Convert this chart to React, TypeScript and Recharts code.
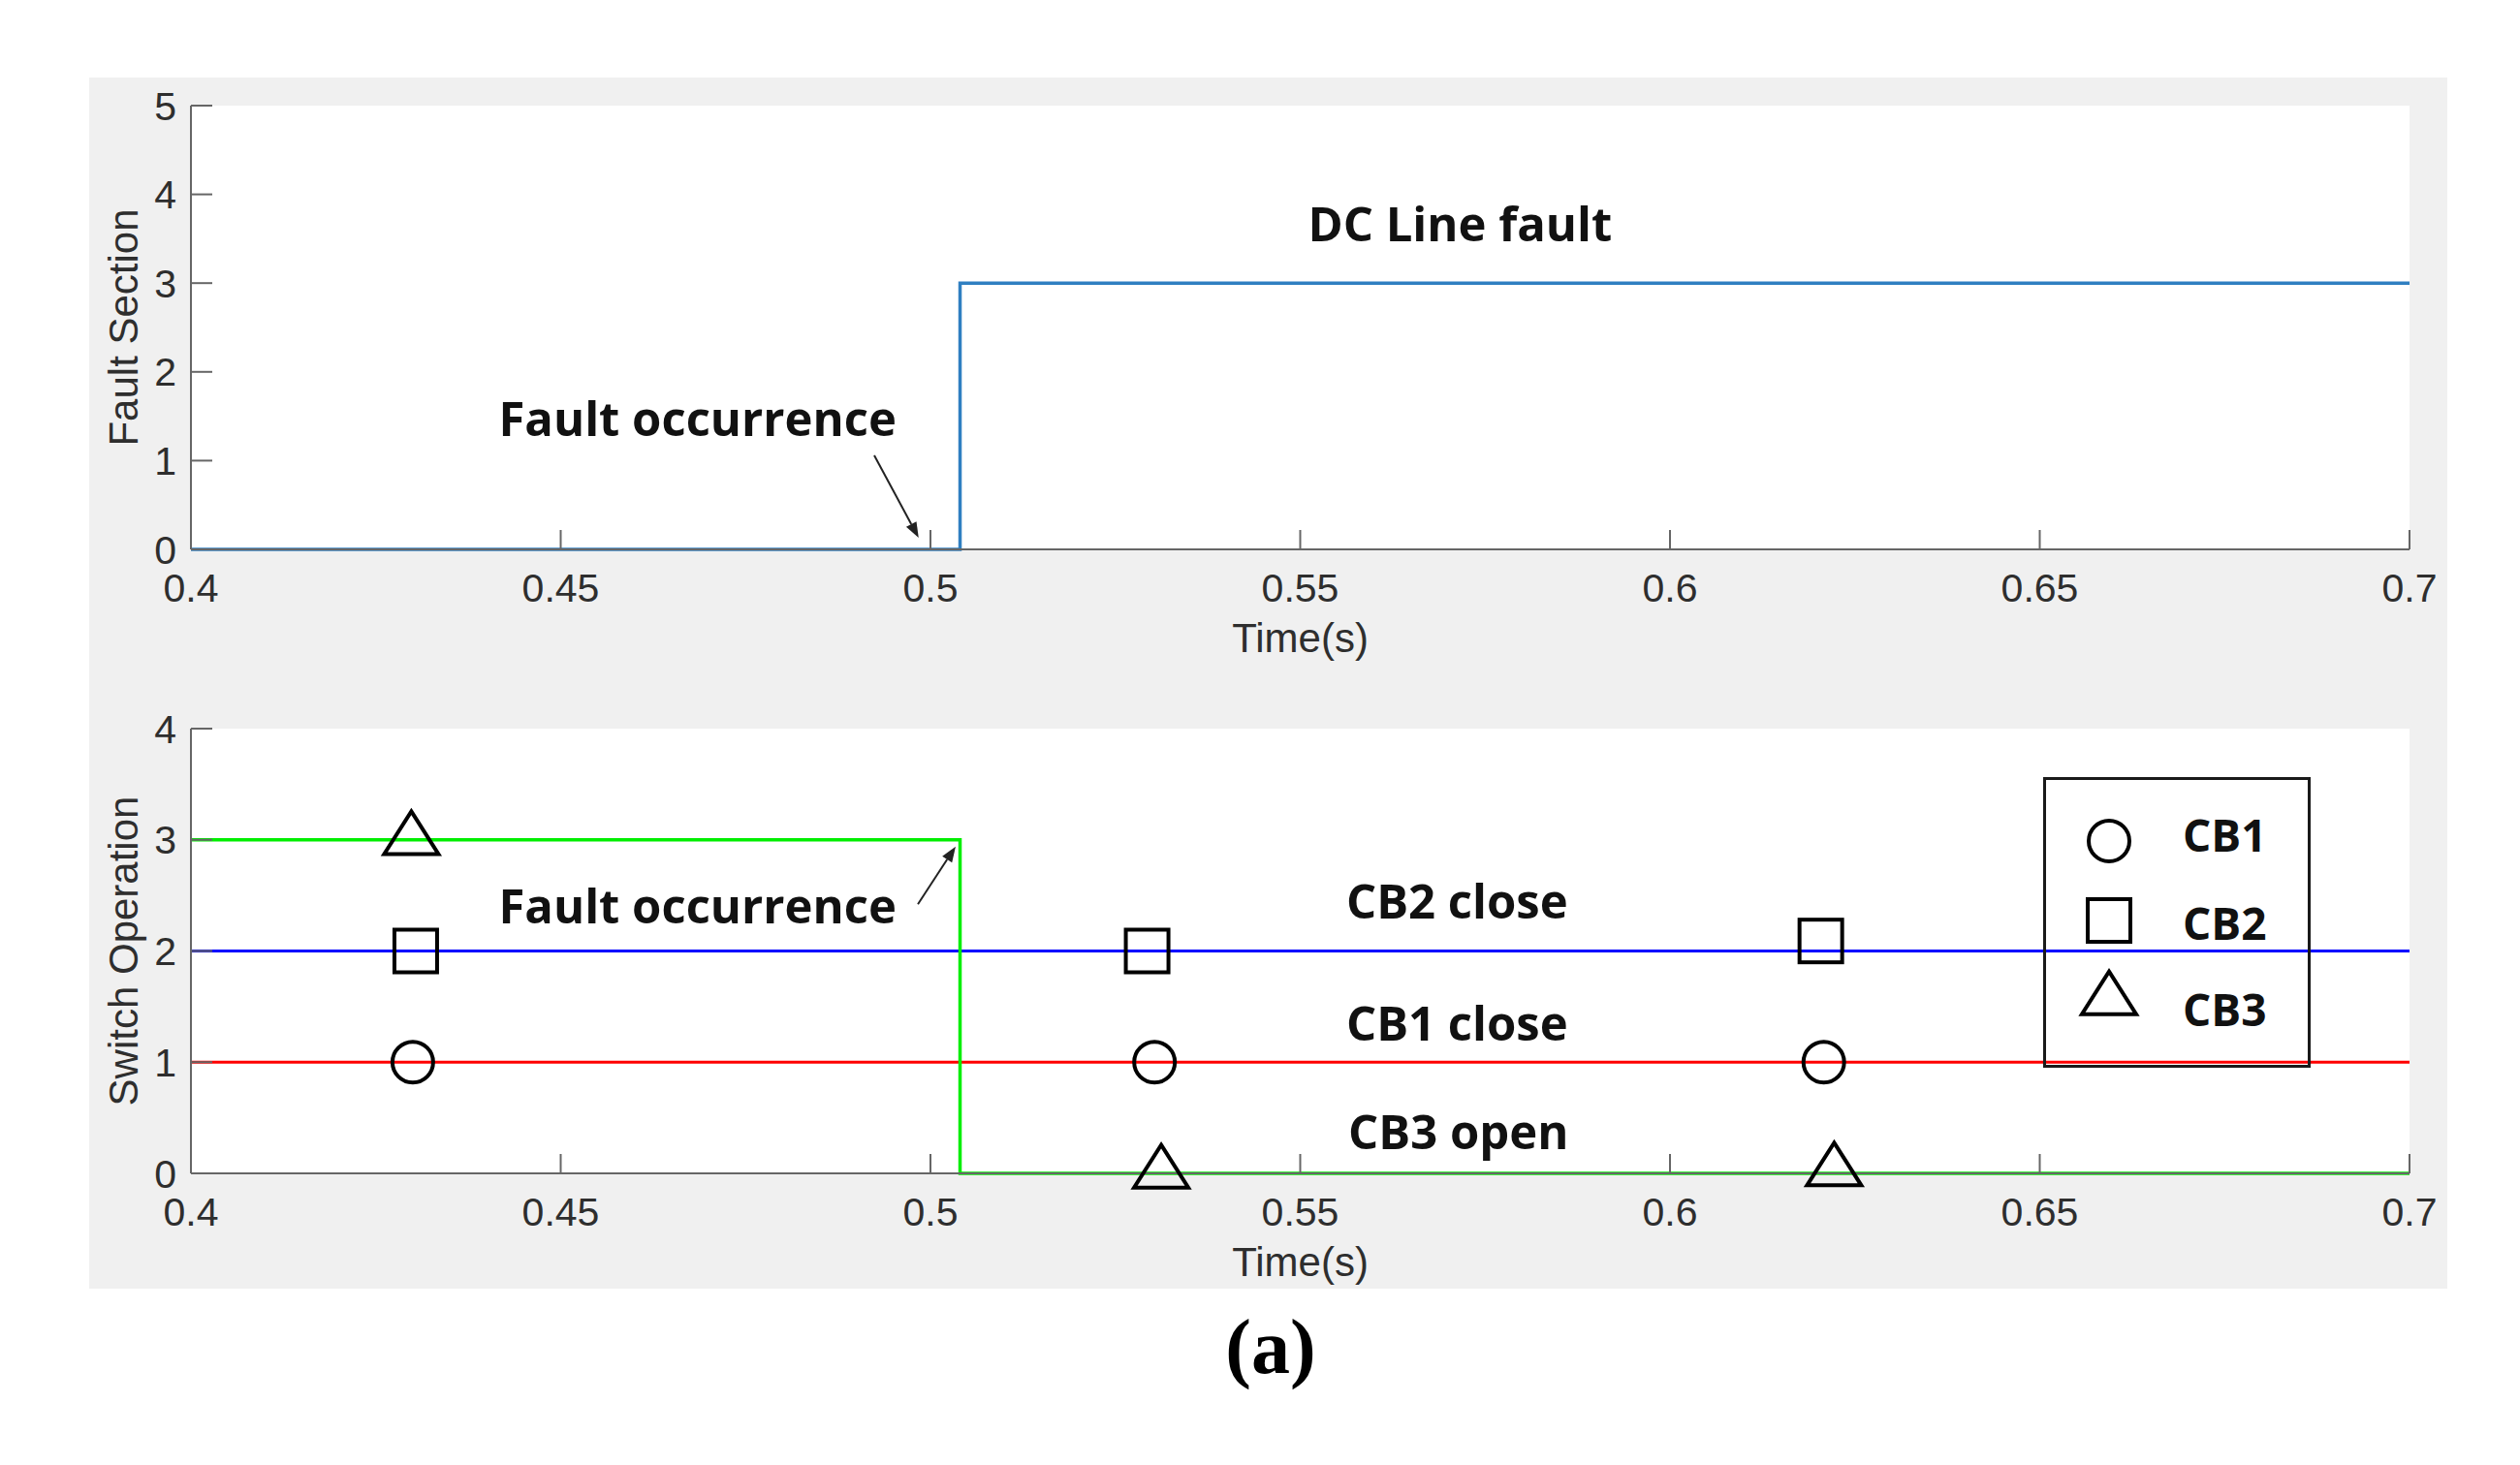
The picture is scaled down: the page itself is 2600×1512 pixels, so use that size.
import {
  ComposedChart,
  Line,
  Scatter,
  XAxis,
  YAxis,
  CartesianGrid,
  ReferenceDot,
  ReferenceLine,
  Legend,
} from "recharts";

// axis ticks
const TIME_TICKS = [0.4, 0.45, 0.5, 0.55, 0.6, 0.65, 0.7];
const FAULT_TICKS = [0, 1, 2, 3, 4, 5];
const SWITCH_TICKS = [0, 1, 2, 3, 4];

// upper panel: fault section signal
const faultSection = [
  { t: 0.4, v: 0 },
  { t: 0.504, v: 3 },
  { t: 0.7, v: 3 },
];

// lower panel: switch operation signals
const cb1Line = [
  { t: 0.4, v: 1 },
  { t: 0.7, v: 1 },
];
const cb2Line = [
  { t: 0.4, v: 2 },
  { t: 0.7, v: 2 },
];
const cb3Line = [
  { t: 0.4, v: 3 },
  { t: 0.504, v: 0 },
  { t: 0.7, v: 0 },
];

// markers
const cb1Marks = [
  { t: 0.43, v: 1 },
  { t: 0.5303, v: 1 },
  { t: 0.6208, v: 1 },
];
const cb2Marks = [
  { t: 0.4304, v: 2 },
  { t: 0.5293, v: 2 },
  { t: 0.6204, v: 2.09 },
];
const cb3Marks = [
  { t: 0.4298, v: 3 },
  { t: 0.5312, v: 0 },
  { t: 0.6222, v: 0.02 },
];

// annotations
const topNotes = [
  { t: 0.5716, v: 3.68, text: "DC Line fault" },
  { t: 0.4685, v: 1.485, text: "Fault occurrence" },
];
const bottomNotes = [
  { t: 0.4685, v: 2.41, text: "Fault occurrence" },
  { t: 0.5712, v: 2.46, text: "CB2 close" },
  { t: 0.5712, v: 1.36, text: "CB1 close" },
  { t: 0.5714, v: 0.38, text: "CB3 open" },
];
const topArrow = [
  { x: 0.4924, y: 1.06 },
  { x: 0.4984, y: 0.13 },
];
const bottomArrow = [
  { x: 0.4983, y: 2.42 },
  { x: 0.5034, y: 2.94 },
];

const legendNames = ["CB1", "CB2", "CB3"];

const AXIS = "#666";
const TICK_FONT = "'Liberation Sans', Arial, sans-serif";
const NOTE_FONT = "'Open Sans', 'Noto Sans', sans-serif";

const CHART_W = 2433;
const Y_W = 105;
const X_H = 124;

function CircleMark(p: any) {
  return <circle cx={p.cx} cy={p.cy} r={21} fill="none" stroke="#000" strokeWidth={4} />;
}

function SquareMark(p: any) {
  return (
    <rect x={p.cx - 22} y={p.cy - 22} width={44} height={44} fill="none" stroke="#000" strokeWidth={4} />
  );
}

function TriangleMark(p: any) {
  const w = 28;
  const h = 44;
  const d = `M${p.cx},${p.cy - (2 * h) / 3} L${p.cx + w},${p.cy + h / 3} L${p.cx - w},${p.cy + h / 3} Z`;
  return <path d={d} fill="none" stroke="#000" strokeWidth={4} />;
}

function Arrow(p: any) {
  const { x1, y1, x2, y2 } = p;
  const ang = Math.atan2(y2 - y1, x2 - x1);
  const len = 16;
  const half = 6;
  const bx = x2 - len * Math.cos(ang);
  const by = y2 - len * Math.sin(ang);
  const px = -Math.sin(ang) * half;
  const py = Math.cos(ang) * half;
  return (
    <g>
      <line x1={x1} y1={y1} x2={bx} y2={by} stroke="#222" strokeWidth={2} />
      <polygon points={`${x2},${y2} ${bx + px},${by + py} ${bx - px},${by - py}`} fill="#222" />
    </g>
  );
}

function noteShape(text: string) {
  return (p: any) => (
    <text
      x={p.cx}
      y={p.cy}
      textAnchor="middle"
      dominantBaseline="central"
      fontFamily={NOTE_FONT}
      fontWeight="bold"
      fontSize={49}
      fill="#111"
    >
      {text}
    </text>
  );
}

function xTitle(p: any) {
  const vb = p.viewBox || {};
  return (
    <text
      x={vb.x + vb.width / 2}
      y={vb.y + 106}
      textAnchor="middle"
      fontFamily={TICK_FONT}
      fontSize={42}
      fill="#2e2e2e"
    >
      Time(s)
    </text>
  );
}

function yTitle(label: string) {
  return (p: any) => {
    const vb = p.viewBox || {};
    const x = vb.x + 50;
    const y = vb.y + vb.height / 2;
    return (
      <text
        x={x}
        y={y}
        transform={`rotate(-90 ${x} ${y})`}
        textAnchor="middle"
        fontFamily={TICK_FONT}
        fontSize={42}
        fill="#2e2e2e"
      >
        {label}
      </text>
    );
  };
}

const tickStyle = { fill: "#2e2e2e", fontSize: 41, fontFamily: TICK_FONT };
const lineStyle = { stroke: AXIS, strokeWidth: 2 };

function LegendBox() {
  const marks = [CircleMark, SquareMark, TriangleMark];
  const ys = [66, 148, 230];
  const base = [77, 168, 257];
  return (
    <svg width={276} height={300} style={{ display: "block", overflow: "visible" }}>
      <rect x={1.5} y={1.5} width={273} height={297} fill="none" stroke="#1a1a1a" strokeWidth={3} />
      {legendNames.map((name, i) => {
        const M = marks[i];
        return (
          <g key={name}>
            <M cx={68} cy={ys[i]} />
            <text x={144} y={base[i]} fontFamily={NOTE_FONT} fontWeight="bold" fontSize={46} fill="#111">
              {name}
            </text>
          </g>
        );
      })}
    </svg>
  );
}

function xAxes() {
  return [
    <XAxis
      key="xb"
      dataKey="t"
      type="number"
      domain={[0.4, 0.7]}
      ticks={TIME_TICKS}
      interval={0}
      height={X_H}
      axisLine={lineStyle}
      tickLine={lineStyle}
      tickSize={-20}
      tickMargin={45}
      tick={tickStyle}
      tickFormatter={(v: number) => String(v)}
      label={xTitle}
    />,
    <XAxis
      key="xt"
      xAxisId="top"
      orientation="top"
      type="number"
      domain={[0.4, 0.7]}
      ticks={TIME_TICKS}
      interval={0}
      height={0}
      axisLine={lineStyle}
      tickLine={lineStyle}
      tickSize={-20}
      tickFormatter={() => ""}
    />,
  ];
}

function yAxes(ticks: number[], max: number, title: string) {
  return [
    <YAxis
      key="yl"
      dataKey="v"
      type="number"
      domain={[0, max]}
      ticks={ticks}
      interval={0}
      width={Y_W}
      axisLine={lineStyle}
      tickLine={lineStyle}
      tickSize={-22}
      tickMargin={37}
      tick={tickStyle}
      label={yTitle(title)}
    />,
    <YAxis
      key="yr"
      yAxisId="right"
      orientation="right"
      type="number"
      domain={[0, max]}
      ticks={ticks}
      interval={0}
      width={0}
      axisLine={lineStyle}
      tickLine={lineStyle}
      tickSize={-22}
      tickFormatter={() => ""}
    />,
  ];
}

export default function App() {
  return (
    <div style={{ position: "absolute", left: 0, top: 0, width: 2600, height: 1512, background: "#fff" }}>
      <div style={{ position: "absolute", left: 92, top: 80, width: 2433, height: 1250, background: "#f0f0f0" }}>
        <div style={{ position: "absolute", left: 0, top: 0 }}>
          <ComposedChart width={CHART_W} height={29 + 458 + X_H} margin={{ top: 29, right: 39, left: 0, bottom: 0 }}>
            <CartesianGrid fill="#fff" horizontal={false} vertical={false} />
            {xAxes()}
            {yAxes(FAULT_TICKS, 5, "Fault Section")}
            <Line
              data={faultSection}
              dataKey="v"
              type="stepAfter"
              stroke="#2f7fc1"
              strokeWidth={3.5}
              dot={false}
              isAnimationActive={false}
            />
            {topNotes.map((n) => (
              <ReferenceDot key={n.text} x={n.t} y={n.v} r={1} shape={noteShape(n.text)} />
            ))}
            <ReferenceLine segment={topArrow} shape={Arrow} />
          </ComposedChart>
        </div>
        <div style={{ position: "absolute", left: 0, top: 600 }}>
          <ComposedChart width={CHART_W} height={72 + 459 + X_H} margin={{ top: 72, right: 39, left: 0, bottom: 0 }}>
            <CartesianGrid fill="#fff" horizontal={false} vertical={false} />
            {xAxes()}
            {yAxes(SWITCH_TICKS, 4, "Switch Operation")}
            <Line data={cb1Line} dataKey="v" stroke="#ff0000" strokeWidth={3} dot={false} isAnimationActive={false} />
            <Line data={cb2Line} dataKey="v" stroke="#0000ff" strokeWidth={3} dot={false} isAnimationActive={false} />
            <Line
              data={cb3Line}
              dataKey="v"
              type="stepAfter"
              stroke="#00ee00"
              strokeWidth={3.5}
              dot={false}
              isAnimationActive={false}
            />
            <Scatter name="CB1" data={cb1Marks} shape={CircleMark} isAnimationActive={false} />
            <Scatter name="CB2" data={cb2Marks} shape={SquareMark} isAnimationActive={false} />
            <Scatter name="CB3" data={cb3Marks} shape={TriangleMark} isAnimationActive={false} />
            {bottomNotes.map((n) => (
              <ReferenceDot key={n.text} x={n.t} y={n.v} r={1} shape={noteShape(n.text)} />
            ))}
            <ReferenceLine segment={bottomArrow} shape={Arrow} />
            <Legend
              layout="horizontal"
              verticalAlign="middle"
              align="center"
              content={() => <LegendBox />}
              wrapperStyle={{ left: 2016, top: 122, width: 276, height: 300 }}
            />
          </ComposedChart>
        </div>
      </div>
      <div
        style={{
          position: "absolute",
          left: 1211,
          width: 200,
          top: 1340,
          textAlign: "center",
          fontFamily: "'Liberation Serif', 'DejaVu Serif', serif",
          fontWeight: "bold",
          fontSize: 80,
          lineHeight: "100px",
        }}
      >
        (a)
      </div>
    </div>
  );
}
